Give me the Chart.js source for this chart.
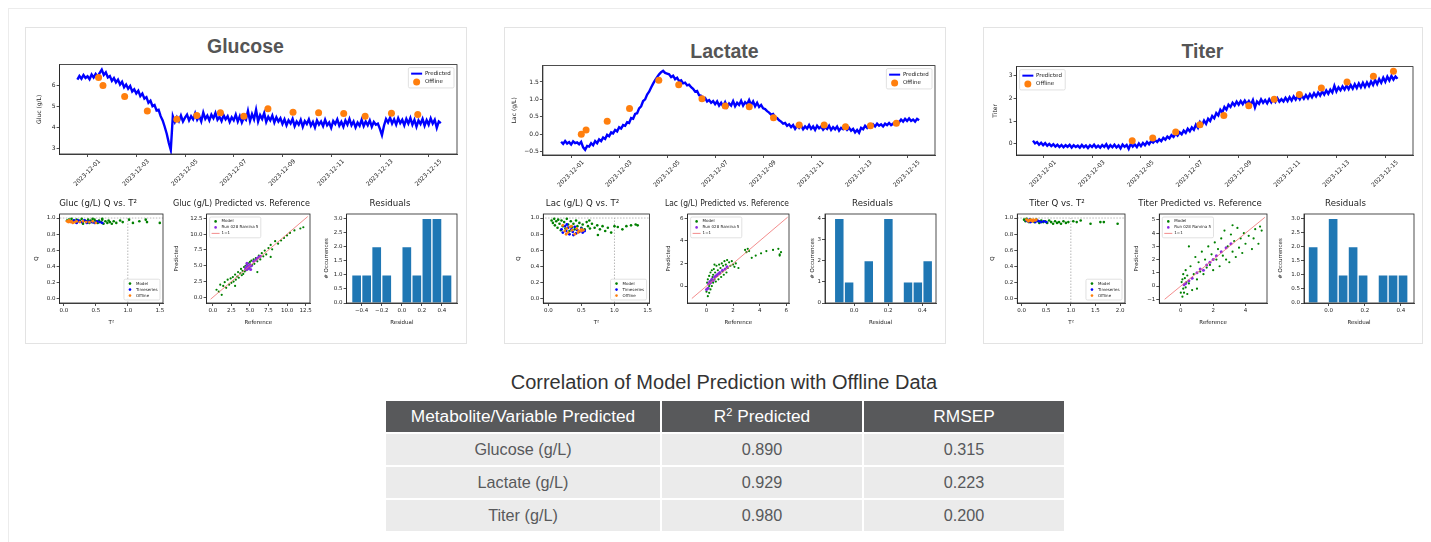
<!DOCTYPE html>
<html>
<head>
<meta charset="utf-8">
<script src="https://cdn.jsdelivr.net/npm/chart.js@4.4.1/dist/chart.umd.min.js"></script>
<style>
  body { margin: 0; width: 1431px; height: 542px; overflow: hidden; background: #fff; position: relative; font-family: "Liberation Sans", Arial, sans-serif; }
  #frame { position: absolute; left: 8px; top: 8px; width: 1500px; height: 600px; border: 1px solid #ececec; }
  .card { position: absolute; top: 27px; height: 315px; border: 1px solid #e3e3e3; background: #fff; }
  .ctitle { position: absolute; font-weight: bold; font-size: 19.5px; color: #555; text-align: center; line-height: 20px; }
  canvas { position: absolute; }
  #ttitle { position: absolute; left: 384px; top: 371px; width: 680px; text-align: center; font-size: 20px; color: #333; line-height: 22px; }
  #tbl { position: absolute; left: 384px; top: 399px; width: 680px; border-collapse: collapse; table-layout: fixed; }
  #tbl td, #tbl th { height: 31px; padding: 0; text-align: center; border: 2px solid #fff; font-weight: normal; }
  #tbl th { background: #58595b; color: #fff; font-size: 17.3px; }
  #tbl td { background: #ebebeb; color: #58595b; font-size: 16.2px; }
</style>
</head>
<body>
<div id="frame"></div>
<div class="card" style="left:25px;width:440px"></div>
<div class="card" style="left:504px;width:440px"></div>
<div class="card" style="left:983px;width:438px"></div>
<div class="ctitle" style="left:25px;width:441px;top:36px">Glucose</div>
<div class="ctitle" style="left:504px;width:441px;top:41px">Lactate</div>
<div class="ctitle" style="left:983px;width:439px;top:41px">Titer</div>
<div id="ttitle">Correlation of Model Prediction with Offline Data</div>
<table id="tbl"></table>

<script>
// ---- data ----
const dateTicks = ['2023-12-01', '2023-12-03', '2023-12-05', '2023-12-07', '2023-12-09', '2023-12-11', '2023-12-13', '2023-12-15'];
const tStart = -0.42, tStep = 1 / 12; // days after 2023-12-01, one reading every 2 h

const glucPred = [6.28, 6.45, 6.32, 6.50, 6.36, 6.44, 6.30, 6.52, 6.38, 6.55, 6.42, 6.60,
  6.75, 6.50, 6.62, 6.38, 6.45,
  6.22, 6.35, 6.15, 6.28, 6.05, 6.18,
  5.92, 6.05, 5.85, 5.98, 5.72, 5.82,
  5.62, 5.75, 5.50, 5.62, 5.38, 5.45,
  5.18, 5.28, 5.02, 5.08, 4.82, 4.85,
  4.55, 4.35, 4.05, 3.72, 3.30, 2.95,
  4.55, 4.28, 4.50, 4.32, 4.58, 4.30, 4.48, 4.62, 4.35, 4.55,
  4.40, 4.68, 4.38, 4.55, 4.30, 4.72, 4.42, 4.58, 4.35, 4.62,
  4.45, 4.70, 4.38, 4.52, 4.32, 4.60, 4.40, 4.55, 4.28, 4.50,
  4.35, 4.62, 4.30, 4.55, 4.25, 4.48, 4.38, 4.80, 4.32, 4.65,
  4.40, 4.85, 4.30, 4.60, 4.42, 4.70, 4.28, 4.52, 4.35, 4.58,
  4.25, 4.50, 4.30, 4.45, 4.18,
  4.40, 4.12, 4.35, 4.20, 4.42, 4.08, 4.30, 4.15, 4.38, 4.05,
  4.32, 4.18, 4.40, 4.10, 4.28, 4.02, 4.35, 4.15, 4.30, 4.08,
  4.38, 4.12, 4.25, 4.00, 4.32, 4.18, 4.40, 4.10, 4.28, 4.05,
  4.35, 4.15, 4.42, 4.12, 4.30, 4.02, 4.25, 4.10, 4.38, 4.08,
  4.30, 4.12, 4.35, 4.05, 4.28, 4.15, 4.20, 3.95, 3.65, 4.10,
  4.42, 4.25, 4.48, 4.20, 4.40, 4.15, 4.45, 4.22, 4.38, 4.12,
  4.42, 4.20, 4.46, 4.15, 4.38, 4.05, 4.35, 4.18, 4.42, 4.10,
  4.36, 4.15, 4.45, 4.20, 4.38, 4.00, 4.30, 4.22];
const glucOffT = [0.45, 0.63, 1.52, 2.45, 3.66, 4.48, 5.45, 6.41, 7.40, 8.43, 9.48, 10.51, 11.39, 12.47, 13.55];
const glucOffY = [6.38, 6.00, 5.48, 4.80, 4.41, 4.58, 4.71, 4.55, 4.90, 4.74, 4.71, 4.68, 4.55, 4.69, 4.63];

const lacPred = [-0.22, -0.28, -0.20, -0.27, -0.23, -0.30, -0.21, -0.26, -0.24, -0.29, -0.22,
  -0.38, -0.45, -0.34,
  -0.36, -0.26, -0.32, -0.20, -0.26, -0.15, -0.20, -0.10, -0.14,
  -0.02, -0.06, 0.05, 0.02, 0.12, 0.08,
  0.20, 0.16, 0.26, 0.24, 0.34, 0.32,
  0.46, 0.44, 0.58, 0.60, 0.74, 0.80,
  0.95, 1.00, 1.14, 1.22, 1.34, 1.45,
  1.55, 1.64, 1.72, 1.78, 1.82, 1.76, 1.74,
  1.72, 1.64, 1.68, 1.58, 1.62, 1.52, 1.55, 1.46, 1.48, 1.40, 1.42, 1.35,
  1.30, 1.22, 1.24, 1.12, 1.10, 1.02, 1.04, 0.94, 0.98, 0.90, 0.95, 0.86,
  0.94, 0.82, 0.90, 0.80, 0.92, 0.78, 0.88, 0.82, 0.95, 0.80, 0.90, 0.84,
  0.96, 0.82, 0.92, 0.86, 0.98, 0.84, 0.94, 0.80, 0.90, 0.78, 0.84, 0.74,
  0.72, 0.66, 0.62, 0.56, 0.58, 0.48, 0.46, 0.40, 0.36, 0.30, 0.32, 0.24,
  0.28, 0.20, 0.26, 0.15, 0.24, 0.18, 0.25, 0.14, 0.22, 0.16,
  0.26, 0.15, 0.22, 0.12, 0.24, 0.17, 0.22, 0.13, 0.20, 0.15,
  0.24, 0.12, 0.20, 0.14, 0.22, 0.10, 0.18, 0.14, 0.20, 0.12,
  0.18, 0.10, 0.15, 0.05, 0.12, 0.04, 0.18, 0.14, 0.24, 0.18,
  0.26, 0.20, 0.28, 0.22, 0.30, 0.24, 0.28, 0.22, 0.30, 0.26,
  0.32, 0.26, 0.30, 0.28, 0.36, 0.34, 0.42, 0.36, 0.44, 0.38,
  0.45, 0.38, 0.42, 0.36, 0.44, 0.40];
const lacOffT = [0.42, 0.62, 1.50, 2.43, 3.65, 4.48, 5.45, 6.42, 7.42, 8.43, 9.50, 10.54, 11.43, 12.47, 13.55];
const lacOffY = [0.00, 0.12, 0.37, 0.74, 1.55, 1.42, 1.02, 0.81, 0.79, 0.47, 0.26, 0.26, 0.21, 0.24, 0.31];

const titPred = [0.14, 0.02, 0.08, -0.04, 0.05, -0.06, 0.03, -0.08, 0.00, -0.10,
  -0.02, -0.12, -0.04, -0.14, -0.05, -0.15, -0.06, -0.13, -0.04, -0.16,
  -0.06, -0.14, -0.08, -0.17, -0.05, -0.15, -0.07, -0.18, -0.06, -0.14,
  -0.04, -0.16, -0.08, -0.17, -0.05, -0.14, -0.02, -0.18, -0.06, -0.15,
  -0.04, -0.16, -0.07, -0.20, -0.03, -0.13, -0.05, -0.22, 0.00, -0.12,
  -0.03, -0.14, 0.02, -0.10,
  0.04, -0.06, 0.08, -0.02, 0.12, 0.05, 0.16, 0.08, 0.20, 0.12,
  0.26, 0.18, 0.32, 0.24, 0.38, 0.30, 0.45, 0.36, 0.50, 0.42,
  0.58, 0.48, 0.66, 0.55, 0.72, 0.62, 0.84, 0.70, 0.95, 0.82,
  1.02, 0.88, 1.10, 1.00, 1.22, 1.12, 1.35, 1.25, 1.50, 1.38,
  1.62, 1.50, 1.72, 1.62, 1.80, 1.68, 1.85, 1.72, 1.88, 1.74,
  1.90, 1.75, 1.88, 1.72, 1.92, 1.60, 1.86, 1.76, 1.95, 1.80,
  1.92, 1.78, 1.96, 1.82, 1.98, 1.84, 2.00, 1.85, 1.96, 1.86,
  2.02, 1.88, 2.05, 1.90, 2.08, 1.94, 2.10, 1.95, 2.12, 1.98,
  2.14, 2.00, 2.18, 2.04, 2.22, 2.08, 2.25, 2.12, 2.30, 2.16,
  2.34, 2.20, 2.38, 2.25, 2.55, 2.30, 2.48, 2.35, 2.52, 2.38,
  2.56, 2.40, 2.58, 2.42, 2.62, 2.45, 2.65, 2.48, 2.68, 2.50,
  2.70, 2.54, 2.74, 2.58, 2.80, 2.62, 2.84, 2.68, 2.90, 2.72,
  2.95, 2.78, 2.98, 2.82, 2.96, 2.86];
const titOffT = [3.64, 4.48, 5.42, 6.41, 7.39, 8.41, 9.45, 10.48, 11.38, 12.43, 13.51, 14.33];
const titOffY = [0.14, 0.26, 0.52, 0.84, 1.24, 1.67, 1.96, 2.16, 2.45, 2.71, 2.97, 3.19];

// Q vs T2 scatter, pairs of [T2, Q]
const glucQModel = [[0.05, 0.97], [0.08, 0.98], [0.10, 0.96], [0.12, 0.99], [0.15, 0.97], [0.18, 0.95], [0.20, 0.98], [0.22, 0.96], [0.25, 0.97], [0.28, 0.99],
  [0.30, 0.95], [0.33, 0.97], [0.35, 0.96], [0.38, 0.98], [0.40, 0.94], [0.42, 0.97], [0.45, 0.95], [0.48, 0.98], [0.50, 0.96], [0.53, 0.94],
  [0.55, 0.97], [0.58, 0.95], [0.60, 0.98], [0.62, 0.93], [0.65, 0.96], [0.68, 0.94], [0.70, 0.97], [0.72, 0.95], [0.75, 0.93], [0.78, 0.96],
  [0.82, 0.94], [0.88, 0.97], [0.92, 0.95], [1.02, 0.98], [1.08, 0.94], [1.18, 0.96], [1.28, 0.98], [1.30, 0.95], [1.50, 0.94], [0.60, 0.99], [0.45, 0.99], [0.30, 0.93]];
const glucQTs = [[0.10, 0.96], [0.13, 0.95], [0.16, 0.97], [0.20, 0.94], [0.24, 0.96], [0.28, 0.95], [0.32, 0.97], [0.36, 0.94], [0.40, 0.96], [0.44, 0.95],
  [0.48, 0.94], [0.52, 0.96], [0.56, 0.95], [0.60, 0.94], [0.22, 0.97], [0.35, 0.96]];
const glucQOff = [[0.05, 0.96], [0.07, 0.95], [0.08, 0.97], [0.10, 0.95], [0.12, 0.96], [0.14, 0.94], [0.17, 0.95], [0.20, 0.96], [0.25, 0.95], [0.30, 0.96],
  [0.35, 0.95], [0.40, 0.95], [0.45, 0.96], [0.50, 0.94], [0.09, 0.96]];

const lacQModel = [[0.05, 0.97], [0.07, 0.94], [0.09, 0.99], [0.10, 0.91], [0.12, 0.96], [0.14, 0.88], [0.15, 0.98], [0.17, 0.93], [0.19, 0.85], [0.20, 0.97],
  [0.22, 0.90], [0.24, 0.95], [0.26, 0.87], [0.28, 0.99], [0.30, 0.92], [0.32, 0.84], [0.34, 0.96], [0.36, 0.89], [0.38, 0.93], [0.40, 0.86],
  [0.42, 0.97], [0.44, 0.90], [0.47, 0.94], [0.50, 0.88], [0.52, 0.92], [0.55, 0.86], [0.58, 0.95], [0.60, 0.90], [0.63, 0.87], [0.66, 0.93],
  [0.70, 0.88], [0.74, 0.91], [0.78, 0.86], [0.82, 0.90], [0.86, 0.84], [0.90, 0.88], [0.95, 0.82], [1.00, 0.90], [1.05, 0.89], [1.12, 0.86],
  [1.18, 0.90], [1.25, 0.91], [1.32, 0.92], [1.35, 0.91], [0.75, 0.79], [0.62, 0.97]];
const lacQTs = [[0.20, 0.86], [0.22, 0.82], [0.25, 0.90], [0.27, 0.84], [0.30, 0.88], [0.32, 0.80], [0.35, 0.86], [0.37, 0.83], [0.40, 0.89], [0.42, 0.81],
  [0.44, 0.85], [0.47, 0.83], [0.50, 0.87], [0.52, 0.82], [0.55, 0.84], [0.28, 0.92], [0.38, 0.79]];
const lacQOff = [[0.22, 0.91], [0.25, 0.84], [0.28, 0.87], [0.30, 0.82], [0.33, 0.89], [0.36, 0.85], [0.40, 0.80], [0.43, 0.87], [0.46, 0.84], [0.50, 0.86],
  [0.53, 0.85], [0.27, 0.80], [0.35, 0.90], [0.45, 0.82], [0.50, 0.84]];

const titQModel = [[0.05, 0.98], [0.08, 0.96], [0.10, 0.99], [0.12, 0.97], [0.15, 0.95], [0.18, 0.98], [0.20, 0.96], [0.23, 0.97], [0.26, 0.95], [0.30, 0.98],
  [0.33, 0.96], [0.36, 0.94], [0.40, 0.97], [0.44, 0.95], [0.48, 0.96], [0.52, 0.94], [0.56, 0.97], [0.60, 0.95], [0.64, 0.93], [0.68, 0.96],
  [0.72, 0.94], [0.76, 0.95], [0.80, 0.93], [0.85, 0.96], [0.90, 0.94], [1.05, 0.96], [1.12, 0.95], [1.20, 0.97], [1.40, 0.93], [1.60, 0.95],
  [1.67, 0.95], [1.95, 0.93], [0.95, 0.95]];
const titQTs = [[0.10, 0.97], [0.13, 0.96], [0.16, 0.98], [0.20, 0.96], [0.24, 0.97], [0.28, 0.95], [0.32, 0.97], [0.36, 0.96], [0.40, 0.95], [0.45, 0.96],
  [0.50, 0.95], [0.18, 0.95]];
const titQOff = [[0.10, 0.98], [0.12, 0.97], [0.15, 0.97], [0.18, 0.98], [0.20, 0.97], [0.22, 0.96], [0.25, 0.97], [0.28, 0.97], [0.30, 0.98], [0.14, 0.96],
  [0.24, 0.98], [0.17, 0.97]];

// Predicted vs reference, pairs of [reference, predicted]
const glucPvModel = [[0.5, 1.2], [0.8, 0.9], [1.0, 2.0], [1.2, 0.4], [1.4, 1.8], [1.6, 2.4], [1.8, 1.5], [2.0, 2.8], [2.2, 2.0], [2.4, 3.0],
  [2.5, 2.3], [2.7, 3.2], [2.8, 2.5], [3.0, 3.6], [3.1, 2.8], [3.3, 3.3], [3.4, 4.0], [3.5, 3.1], [3.7, 3.8], [3.8, 4.5],
  [3.9, 3.5], [4.0, 4.2], [4.1, 3.7], [4.2, 4.8], [4.3, 4.1], [4.4, 5.0], [4.5, 4.3], [4.6, 5.2], [4.7, 4.5], [4.8, 5.4],
  [4.9, 4.6], [5.0, 5.6], [5.1, 4.9], [5.2, 5.8], [5.3, 5.1], [5.5, 6.0], [5.6, 5.3], [5.8, 6.2], [6.0, 5.7], [6.2, 6.6],
  [6.4, 6.0], [6.6, 7.0], [6.8, 6.5], [7.0, 7.4], [7.2, 6.8], [7.5, 7.8], [7.8, 8.3], [8.0, 7.6], [8.4, 8.9], [8.8, 8.5],
  [9.2, 9.0], [9.6, 9.4], [10.0, 9.8], [10.4, 10.2], [11.0, 10.6], [11.8, 10.9], [12.2, 11.1], [3.0, 1.8], [6.0, 4.0], [7.8, 6.4]];
const glucPvRun = [[4.4, 4.5], [4.5, 4.8], [4.6, 4.4], [4.7, 5.0], [4.8, 4.6], [4.9, 4.9], [5.0, 5.2], [5.2, 5.0], [5.5, 5.7], [5.8, 5.9],
  [6.0, 6.2], [6.2, 6.4], [6.4, 6.5], [4.6, 5.4], [5.1, 4.4]];

const lacPvModel = [[0.00, -0.5], [0.05, 0.3], [0.10, -0.9], [0.10, 0.6], [0.15, -0.2], [0.20, 0.9], [0.20, -0.6], [0.25, 0.2], [0.30, 1.2], [0.30, -0.3],
  [0.35, 0.5], [0.40, 1.4], [0.40, 0.0], [0.45, 0.8], [0.50, 1.0], [0.50, 0.3], [0.55, 1.5], [0.60, 0.6], [0.65, 1.2], [0.70, 0.4],
  [0.75, 1.8], [0.80, 0.9], [0.85, 1.4], [0.90, 0.6], [0.95, 1.9], [1.00, 1.1], [1.05, 1.6], [1.10, 0.8], [1.15, 2.0], [1.20, 1.3],
  [1.25, 1.8], [1.30, 1.0], [1.35, 2.2], [1.40, 1.5], [1.45, 1.9], [1.50, 1.2], [1.55, 2.3], [1.60, 1.6], [1.70, 2.1], [1.80, 1.8],
  [1.90, 2.2], [2.00, 1.9], [2.10, 1.7], [2.20, 2.0], [2.40, 1.6], [2.90, 3.2], [3.00, 3.0], [3.10, 3.3], [3.20, 3.1], [3.40, 2.5],
  [3.70, 2.7], [4.10, 2.9], [4.50, 3.1], [5.00, 3.2], [5.40, 3.3], [5.50, 2.8], [5.60, 3.0], [5.50, 2.7], [0.20, 0.0], [0.60, 1.9]];
const lacPvRun = [[0.00, -0.3], [0.10, -0.2], [0.15, 0.2], [0.25, 0.4], [0.30, 0.3], [0.40, 0.6], [0.50, 0.5], [0.60, 0.8], [0.70, 0.9], [0.80, 1.0],
  [0.90, 1.1], [1.00, 1.2], [1.20, 1.4], [1.40, 1.5], [1.55, 1.7]];

const titPvModel = [[0.00, -0.5], [0.05, 0.3], [0.10, -0.8], [0.10, 0.5], [0.15, -0.2], [0.15, 0.9], [0.20, 0.1], [0.20, -0.5], [0.25, 0.6], [0.30, -0.1],
  [0.30, 1.2], [0.35, 0.3], [0.40, -0.6], [0.40, 0.8], [0.50, 3.0], [0.50, 0.2], [0.60, 1.5], [0.70, -0.3], [0.80, 0.9], [0.90, 2.2],
  [1.00, 0.5], [1.10, 1.8], [1.20, 1.1], [1.30, 2.6], [1.40, 0.9], [1.50, 2.0], [1.60, 1.4], [1.70, 3.0], [1.80, 1.6], [1.90, 2.4],
  [2.00, 1.2], [2.10, 3.3], [2.20, 2.0], [2.30, 2.8], [2.40, 1.5], [2.50, 3.6], [2.60, 2.3], [2.70, 4.2], [2.80, 2.0], [2.90, 3.0],
  [3.00, 1.8], [3.10, 3.9], [3.20, 2.6], [3.30, 3.4], [3.40, 2.2], [3.50, 4.4], [3.60, 2.9], [3.70, 3.6], [3.80, 2.5], [3.90, 4.0],
  [4.00, 3.2], [4.20, 3.8], [4.40, 2.8], [4.60, 4.3], [4.80, 3.2], [4.90, 4.5], [5.00, 4.2], [4.50, 3.6], [3.20, 4.6], [1.00, -0.2]];
const titPvRun = [[0.2, 0.1], [0.3, 0.2], [0.5, 0.4], [0.7, 0.6], [1.0, 1.0], [1.2, 1.3], [1.4, 1.2], [1.6, 1.6], [1.8, 1.8], [2.0, 2.0],
  [2.2, 2.3], [2.5, 2.6], [2.8, 2.9], [3.1, 3.2]];

// residual histograms: bin edges and counts
const glucResEdges = [-0.5, -0.4, -0.3, -0.2, -0.1, 0.0, 0.1, 0.2, 0.3, 0.4, 0.5];
const glucResCounts = [1, 1, 2, 1, 0, 2, 1, 3, 3, 1];
const lacResEdges = [-0.115, -0.0575, 0.0, 0.0575, 0.115, 0.1725, 0.23, 0.2875, 0.345, 0.4025, 0.46];
const lacResCounts = [4, 1, 0, 2, 0, 4, 0, 1, 1, 2];
const titResEdges = [-0.114, -0.0587, -0.0034, 0.0519, 0.1072, 0.1625, 0.2178, 0.2731, 0.3284, 0.3837, 0.439];
const titResCounts = [2, 0, 3, 1, 2, 1, 0, 1, 1, 1];

// table
const tblHead = ['Metabolite/Variable Predicted', 'R<sup style="font-size:11px;vertical-align:6px">2</sup> Predicted', 'RMSEP'];
const tblVar = ['Glucose (g/L)', 'Lactate (g/L)', 'Titer (g/L)'];
const tblR2 = ['0.890', '0.929', '0.980'];
const tblRmsep = ['0.315', '0.223', '0.200'];

// ---- drawing ----
const F = '"DejaVu Sans", sans-serif';
const INK = '#222';
const TITLE_SIZE = 8.6;
const fmt = d => v => v.toFixed(d).replace('-', '\u2212');
const pts = arr => arr.map(p => ({ x: p[0], y: p[1] }));

const frame = {
  id: 'frame',
  afterDraw(c) {
    const a = c.chartArea, ctx = c.ctx;
    ctx.save();
    ctx.strokeStyle = INK; ctx.lineWidth = 0.8;
    ctx.strokeRect(a.left, a.top, a.right - a.left, a.bottom - a.top);
    ctx.restore();
  }
};

const boxLegend = {
  id: 'boxLegend',
  afterDraw(c, args, o) {
    if (!o || !o.pos) return;
    const ctx = c.ctx, a = c.chartArea, s = o.size;
    const items = c.data.datasets.filter(d => d.label);
    ctx.save();
    ctx.font = s + 'px ' + F;
    const tw = Math.max(...items.map(d => ctx.measureText(d.label).width));
    const rh = s * 1.5, sw = s * 2, w = sw + tw + s * 1.6, h = items.length * rh + s * 0.7, m = 3;
    const x = o.pos.endsWith('right') ? a.right - w - m : a.left + m;
    const y = o.pos.startsWith('upper') ? a.top + m : a.bottom - h - m;
    ctx.fillStyle = 'rgba(255,255,255,0.85)'; ctx.strokeStyle = '#d4d4d4'; ctx.lineWidth = 0.7;
    ctx.beginPath(); ctx.roundRect(x, y, w, h, 1.5); ctx.fill(); ctx.stroke();
    items.forEach((d, i) => {
      const cy = y + s * 0.35 + rh * (i + 0.5), sx = x + s * 0.5;
      if (d.showLine) {
        ctx.strokeStyle = d.borderColor; ctx.lineWidth = o.lw || d.borderWidth;
        ctx.beginPath(); ctx.moveTo(sx, cy); ctx.lineTo(sx + sw, cy); ctx.stroke();
      } else {
        ctx.fillStyle = d.backgroundColor;
        ctx.beginPath(); ctx.arc(sx + sw / 2, cy, o.mark || d.pointRadius, 0, Math.PI * 2); ctx.fill();
      }
      ctx.fillStyle = INK; ctx.textBaseline = 'middle'; ctx.textAlign = 'left';
      ctx.fillText(d.label, sx + sw + s * 0.5, cy);
    });
    ctx.restore();
  }
};

function axis(o) {
  return {
    type: 'linear', min: o.min, max: o.max, offset: false, bounds: 'data',
    afterBuildTicks: s => { s.ticks = o.ticks.map(v => ({ value: v })); },
    afterFit: s => { if (s.isHorizontal()) s.height = o.fit; else s.width = o.fit; },
    grid: { display: true, drawOnChartArea: false, drawTicks: true, tickLength: 3, tickColor: INK, tickWidth: 0.8, offset: false },
    border: { display: true, color: INK, width: 0.8 },
    ticks: {
      font: { family: F, size: o.size }, color: INK, padding: 1, autoSkip: false,
      maxRotation: o.rot || 0, minRotation: o.rot || 0, labelOffset: o.lo || 0,
      callback: o.cb || fmt(o.dec)
    },
    title: { display: !!o.title, text: o.title, font: { family: F, size: o.size }, color: INK, padding: 0 }
  };
}

// box = axes rectangle on the page; pad = room round it for labels
function place(box, pad, type, datasets, scales, plugins) {
  const c = document.createElement('canvas');
  c.width = box.r - box.l + pad.l + pad.r;
  c.height = box.b - box.t + pad.t + pad.b;
  c.style.left = (box.l - pad.l) + 'px';
  c.style.top = (box.t - pad.t) + 'px';
  document.body.appendChild(c);
  const titleH = plugins.title ? TITLE_SIZE * 1.2 + 5 : 0;
  return new Chart(c, {
    type: type,
    data: { datasets: datasets },
    options: {
      responsive: false, animation: false, events: [],
      layout: { autoPadding: false, padding: { left: 0, right: pad.r, top: pad.t - titleH, bottom: 0 } },
      scales: scales,
      plugins: Object.assign({ legend: { display: false }, tooltip: { enabled: false } }, plugins)
    },
    plugins: [frame, boxLegend]
  });
}

function subTitle(text) {
  return { display: true, text: text, color: INK, font: { family: F, size: TITLE_SIZE, weight: 'normal', lineHeight: 1.2 }, padding: { top: 0, bottom: 5 } };
}

function topChart(box, padL, xr, yr, yTicks, yDec, yTitle, pred, offT, offY, legendPos) {
  const day0 = Date.parse(dateTicks[0]);
  const tickDays = dateTicks.map(s => (Date.parse(s) - day0) / 864e5);
  const line = pred.map((v, i) => ({ x: tStart + i * tStep, y: v }));
  const off = offT.map((t, i) => ({ x: t, y: offY[i] }));
  place(box, { l: padL, r: 4, t: 4, b: 40 }, 'scatter', [
    { label: 'Predicted', data: line, showLine: true, borderColor: '#0000ff', backgroundColor: '#0000ff', borderWidth: 2.4, pointRadius: 0, order: 2 },
    { label: 'Offline', data: off, backgroundColor: '#ff7f0e', pointRadius: 3.5, pointBorderWidth: 0, order: 1 }
  ], {
    x: axis({ min: xr[0], max: xr[1], ticks: tickDays, fit: 40, size: 6, rot: 45, lo: 12, cb: (v, i) => dateTicks[i] }),
    y: axis({ min: yr[0], max: yr[1], ticks: yTicks, dec: yDec, fit: padL, size: 6, title: yTitle })
  }, { boxLegend: { pos: legendPos, size: 5.5, lw: 2 } });
}

const qTicks = [0, 0.2, 0.4, 0.6, 0.8, 1.0];
function qChart(box, padL, title, xr, xTicks, model, ts, off) {
  place(box, { l: padL, r: 3, t: 18, b: 23 }, 'scatter', [
    { label: 'Model', data: pts(model), backgroundColor: '#008000', pointRadius: 1.3, pointBorderWidth: 0, order: 3 },
    { label: 'Timeseries', data: pts(ts), backgroundColor: '#0000ff', pointRadius: 1.4, pointBorderWidth: 0, order: 2 },
    { label: 'Offline', data: pts(off), backgroundColor: '#ff7f0e', pointRadius: 1.4, pointBorderWidth: 0, order: 1 },
    { data: [{ x: -1, y: 1 }, { x: 5, y: 1 }], showLine: true, borderColor: '#999', borderWidth: 0.7, borderDash: [1.5, 1.5], pointRadius: 0, order: 4 },
    { data: [{ x: 1, y: -0.05 }, { x: 1, y: 1 }], showLine: true, borderColor: '#999', borderWidth: 0.7, borderDash: [1.5, 1.5], pointRadius: 0, order: 4 }
  ], {
    x: axis({ min: xr[0], max: xr[1], ticks: xTicks, dec: 1, fit: 23, size: 5.5, title: 'T\u00b2' }),
    y: axis({ min: -0.05, max: 1.05, ticks: qTicks, dec: 1, fit: padL, size: 5.5, title: 'Q' })
  }, { title: subTitle(title), boxLegend: { pos: 'lower right', size: 4, mark: 1.3 } });
}

function pvChart(box, padL, title, xr, yr, xTicks, yTicks, dec, model, run, lineEnds) {
  place(box, { l: padL, r: 3, t: 18, b: 23 }, 'scatter', [
    { label: 'Model', data: pts(model), backgroundColor: '#008000', pointRadius: 1.1, pointBorderWidth: 0, order: 3 },
    { label: 'Run 028 Ramina 5', data: pts(run), backgroundColor: '#8a2be2', pointRadius: 1.5, pointBorderWidth: 0, order: 2 },
    { label: '1=1', data: lineEnds.map(v => ({ x: v, y: v })), showLine: true, borderColor: '#f07070', borderWidth: 0.8, pointRadius: 0, order: 1 }
  ], {
    x: axis({ min: xr[0], max: xr[1], ticks: xTicks, dec: dec, fit: 23, size: 5.5, title: 'Reference' }),
    y: axis({ min: yr[0], max: yr[1], ticks: yTicks, dec: dec, fit: padL, size: 5.5, title: 'Predicted' })
  }, { title: subTitle(title), boxLegend: { pos: 'upper left', size: 4, mark: 1.3 } });
}

function resChart(box, padL, xr, yMax, xTicks, yTicks, yDec, edges, counts) {
  const bars = counts.map((n, i) => ({ x: (edges[i] + edges[i + 1]) / 2, y: n || null }));
  place(box, { l: padL, r: 3, t: 18, b: 23 }, 'bar', [
    { data: bars, backgroundColor: '#1f77b4', borderColor: 'rgba(255,255,255,0.55)', borderWidth: 1, barPercentage: 1, categoryPercentage: 1 }
  ], {
    x: axis({ min: xr[0], max: xr[1], ticks: xTicks, dec: 1, fit: 23, size: 5.5, title: 'Residual' }),
    y: axis({ min: 0, max: yMax, ticks: yTicks, dec: yDec, fit: padL, size: 5.5, title: '# Occurrences' })
  }, { title: subTitle('Residuals') });
}

// Glucose
topChart({ l: 60, t: 64, r: 458, b: 154 }, 23.6, [-1.15, 15.16], [2.76, 6.99], [3, 4, 5, 6], 0, 'Gluc (g/L)', glucPred, glucOffT, glucOffY, 'upper right');
qChart({ l: 60, t: 214, r: 164, b: 303 }, 26.6, 'Gluc (g/L) Q vs. T\u00b2', [-0.066, 1.55], [0, 0.5, 1.0, 1.5], glucQModel, glucQTs, glucQOff);
pvChart({ l: 207, t: 214, r: 311, b: 303 }, 33.6, 'Gluc (g/L) Predicted vs. Reference', [-0.84, 13.1], [-0.9, 13.2],
  [0, 2.5, 5, 7.5, 10, 12.5], [0, 2.5, 5, 7.5, 10, 12.5], 1, glucPvModel, glucPvRun, [-0.3, 12.8]);
resChart({ l: 347, t: 214, r: 458, b: 303 }, 23.6, [-0.55, 0.55], 3.15, [-0.4, -0.2, 0, 0.2, 0.4], [0, 0.5, 1, 1.5, 2, 2.5, 3], 1, glucResEdges, glucResCounts);

// Lactate
topChart({ l: 543, t: 65, r: 936, b: 155 }, 31.9, [-1.18, 15.16], [-0.6, 1.97], [-0.5, 0, 0.5, 1.0, 1.5], 1, 'Lac (g/L)', lacPred, lacOffT, lacOffY, 'upper right');
qChart({ l: 543, t: 214, r: 650, b: 303 }, 28.3, 'Lac (g/L) Q vs. T\u00b2', [-0.075, 1.53], [0, 0.5, 1.0, 1.5], lacQModel, lacQTs, lacQOff);
pvChart({ l: 688, t: 214, r: 790, b: 303 }, 22.6, 'Lac (g/L) Predicted vs. Reference', [-1.42, 6.2], [-1.5, 6.38],
  [0, 2, 4, 6], [0, 2, 4, 6], 0, lacPvModel, lacPvRun, [-1.1, 6.1]);
resChart({ l: 825, t: 214, r: 936, b: 303 }, 16, [-0.17, 0.48], 4.2, [0, 0.2, 0.4], [0, 1, 2, 3, 4], 0, lacResEdges, lacResCounts);

// Titer
topChart({ l: 1017, t: 66, r: 1414, b: 155 }, 24.6, [-1.09, 15.13], [-0.49, 3.39], [0, 1, 2, 3], 0, 'Titer', titPred, titOffT, titOffY, 'upper left');
qChart({ l: 1017, t: 214, r: 1125, b: 303 }, 28.3, 'Titer Q vs. T\u00b2', [-0.087, 2.1], [0, 0.5, 1.0, 1.5, 2.0], titQModel, titQTs, titQOff);
pvChart({ l: 1159, t: 214, r: 1267, b: 303 }, 26.3, 'Titer Predicted vs. Reference', [-1.33, 5.33], [-1.28, 5.45],
  [0, 2, 4], [-1, 0, 1, 2, 3, 4, 5], 0, titPvModel, titPvRun, [-1, 5.2]);
resChart({ l: 1304, t: 214, r: 1414, b: 303 }, 27, [-0.137, 0.472], 3.15, [0, 0.2, 0.4], [0, 0.5, 1, 1.5, 2, 2.5, 3], 1, titResEdges, titResCounts);

// table
const tbl = document.getElementById('tbl');
let html = '<colgroup><col style="width:276px"><col style="width:202px"><col style="width:202px"></colgroup>';
html += '<tr>' + tblHead.map(h => '<th>' + h + '</th>').join('') + '</tr>';
tblVar.forEach((v, i) => { html += '<tr><td>' + v + '</td><td>' + tblR2[i] + '</td><td>' + tblRmsep[i] + '</td></tr>'; });
tbl.innerHTML = html;
</script>
</body>
</html>
